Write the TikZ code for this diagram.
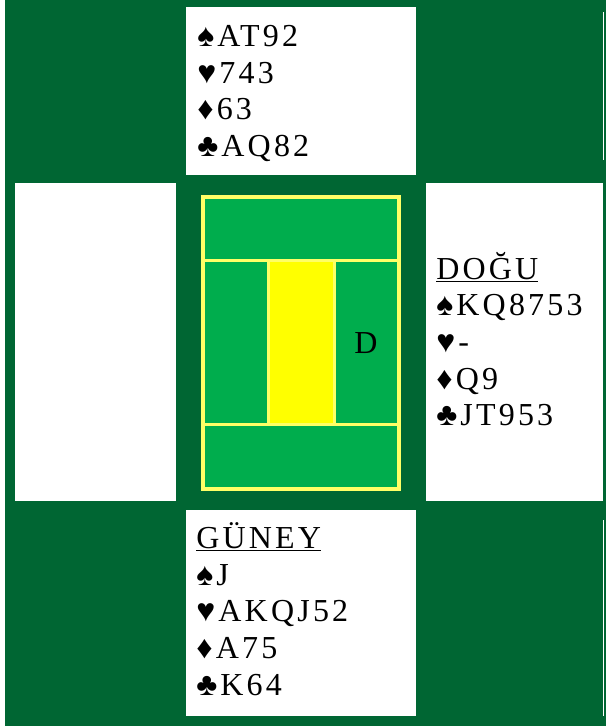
\documentclass[tikz,border=0pt]{standalone}
\usepackage{fontspec}
\usepackage{tikz}
\setmainfont{Liberation Serif}
\newfontfamily\handfamily[LetterSpace=10]{Liberation Serif}
\definecolor{feltDark}{RGB}{0, 102, 51}
\definecolor{feltLight}{RGB}{0, 173, 77}
\definecolor{lineYellow}{RGB}{255, 255, 102}
\definecolor{dealYellow}{RGB}{255, 255, 0}
\tikzset{
  hand/.style={anchor=base west, align=left, inner sep=0pt,
    font=\handfamily\fontsize{24pt}{27.5pt}\selectfont},
  seatbox/.style={fill=white},
  tableline/.style={draw=lineYellow, line width=2.25pt}
}

\begin{document}
\begin{tikzpicture}[x=0.75pt,y=-0.75pt]
        \useasboundingbox (0,0) rectangle (606,726);
        \fill[feltDark] (5,0) rectangle (606,726);
        \draw[white, line width=0.75pt] (603.5,12) -- (603.5,160);
        \draw[white, line width=0.75pt] (603.5,520) -- (603.5,716);

        % seats
        \fill[seatbox] (186,7) rectangle (416,175);
        \fill[seatbox] (15,183) rectangle (176,501);
        \fill[seatbox] (426,183) rectangle (603,501);
        \fill[seatbox] (186,510) rectangle (416,716);

        % table
        \filldraw[fill=feltLight, draw=lineYellow, line width=3pt] (203,196.7) rectangle (399,488.7);
        \draw[tableline] (203,260) -- (399,260);
        \draw[tableline] (203,424) -- (399,424);
        \filldraw[fill=dealYellow, tableline] (268,260) rectangle (334,424);
        \node[hand, anchor=base] (dealer) at (366,353.3) {D};

        % hands (anchored at the baseline of the last line)
        \node[hand] (north) at (197,156.6) {♠AT92\\♥743\\♦63\\♣AQ82};
        \node[hand] (east) at (436,425.7) {\underline{DOĞU}\\♠KQ8753\\♥-\\♦Q9\\♣JT953};
        \node[hand] (south) at (196,695) {\underline{GÜNEY}\\♠J\\♥AKQJ52\\♦A75\\♣K64};
\end{tikzpicture}
\end{document}
